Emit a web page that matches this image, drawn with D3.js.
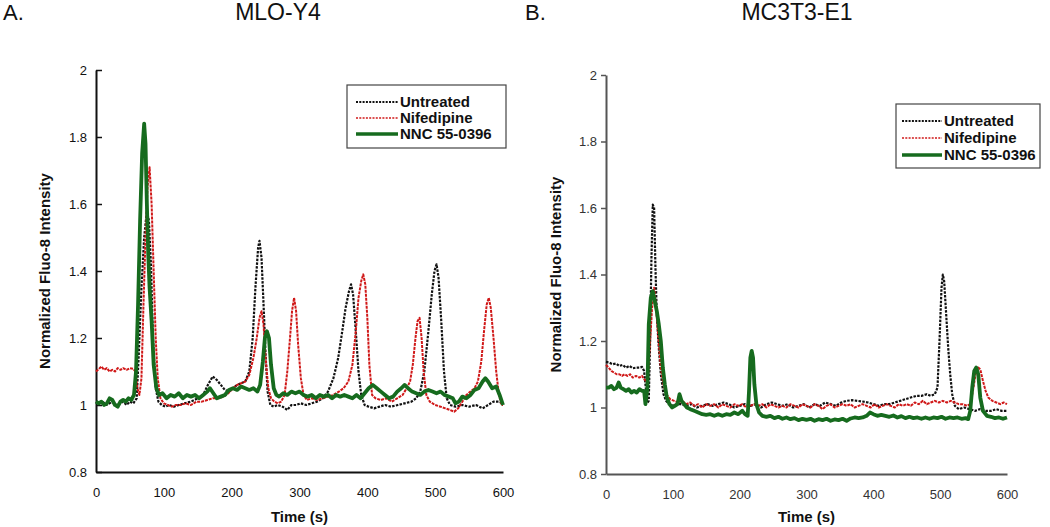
<!DOCTYPE html>
<html><head><meta charset="utf-8">
<script src="https://cdn.jsdelivr.net/npm/d3@7"></script>
<style>body{margin:0;background:#fff}svg{display:block;font-family:"Liberation Sans",Arial,sans-serif}</style>
</head><body><svg id="c" width="1050" height="527"></svg>
<script>
const seriesNames = ["Untreated","Nifedipine","NNC 55-0396"];
const xTicks = [0,100,200,300,400,500,600];
const yTicks = [0.8,1,1.2,1.4,1.6,1.8,2];
const yTickLabels = ["0.8","1","1.2","1.4","1.6","1.8","2"];

const untreatedA = [[0,1.01],[5,1.005],[10,1.01],[15,1.0],[20,1.005],[25,1.01],[30,1.0],[35,1.005],[40,1.01],[45,1.0],[50,1.01],[55,1.005],[60,1.02],[63,1.15],[67,1.35],[71,1.5],[75,1.58],[78,1.55],[81,1.42],[84,1.2],[88,1.05],[92,1.01],[97,1.0],[102,0.995],[108,1.0],[115,0.995],[122,1.0],[130,1.005],[140,1.01],[150,1.02],[158,1.03],[165,1.06],[172,1.085],[178,1.075],[184,1.06],[190,1.045],[196,1.04],[202,1.05],[208,1.06],[214,1.065],[220,1.07],[226,1.1],[231,1.2],[235,1.35],[239,1.47],[241,1.49],[244,1.44],[247,1.3],[250,1.15],[253,1.04],[257,1.0],[262,0.995],[268,1.0],[275,0.995],[282,0.985],[288,1.0],[295,1.0],[302,1.005],[310,1.0],[318,1.005],[326,1.01],[334,1.02],[342,1.04],[350,1.08],[357,1.14],[363,1.22],[368,1.29],[373,1.34],[376,1.36],[379,1.33],[383,1.22],[387,1.1],[391,1.03],[396,1.0],[402,0.995],[410,0.99],[418,0.995],[426,1.0],[435,0.995],[445,1.0],[455,1.005],[465,1.01],[472,1.02],[478,1.04],[484,1.1],[490,1.22],[495,1.33],[499,1.4],[502,1.42],[505,1.38],[509,1.25],[513,1.1],[517,1.02],[522,1.0],[530,0.995],[540,1.0],[550,0.995],[560,1.0],[570,0.99],[578,1.0],[586,1.01],[594,1.01],[600,1.005]];
const nifedipineA = [[0,1.1],[3,1.105],[8,1.115],[12,1.105],[16,1.11],[20,1.1],[24,1.105],[28,1.1],[32,1.11],[36,1.105],[40,1.11],[45,1.105],[50,1.11],[55,1.108],[58,1.1],[61,1.05],[64,1.03],[67,1.08],[70,1.3],[73,1.5],[76,1.65],[79,1.71],[82,1.6],[85,1.4],[88,1.2],[91,1.08],[95,1.02],[100,1.005],[106,1.0],[112,0.995],[118,1.0],[125,1.0],[132,1.005],[140,1.0],[148,1.01],[156,1.01],[164,1.015],[172,1.02],[180,1.02],[188,1.025],[195,1.035],[202,1.05],[208,1.06],[214,1.065],[220,1.07],[226,1.09],[232,1.14],[237,1.2],[241,1.26],[244,1.28],[247,1.24],[250,1.14],[254,1.05],[258,1.02],[263,1.01],[268,1.005],[273,1.01],[278,1.03],[282,1.1],[286,1.2],[289,1.28],[292,1.32],[295,1.28],[298,1.18],[302,1.08],[306,1.03],[311,1.015],[318,1.02],[326,1.015],[334,1.02],[342,1.025],[350,1.03],[358,1.04],[365,1.05],[372,1.07],[378,1.12],[383,1.22],[387,1.32],[391,1.37],[394,1.39],[397,1.36],[400,1.26],[403,1.12],[407,1.03],[412,1.02],[420,1.015],[428,1.02],[436,1.01],[444,1.02],[452,1.03],[458,1.05],[463,1.07],[467,1.12],[471,1.2],[474,1.25],[477,1.26],[480,1.2],[483,1.1],[487,1.03],[492,1.01],[500,1.0],[508,0.995],[515,0.99],[522,0.985],[528,0.98],[534,0.99],[540,1.01],[546,1.03],[552,1.04],[558,1.05],[563,1.07],[568,1.13],[572,1.22],[576,1.3],[579,1.32],[582,1.29],[586,1.2],[590,1.1],[594,1.03],[598,1.0],[600,1.0]];
const nncA = [[0,1.01],[4,1.005],[8,1.01],[12,1.0],[16,1.005],[20,1.02],[24,1.015],[28,1.0],[32,0.995],[36,1.01],[40,1.015],[44,1.01],[48,1.02],[52,1.015],[56,1.03],[59,1.1],[62,1.3],[65,1.55],[68,1.75],[71,1.84],[73,1.78],[75,1.6],[77,1.45],[79,1.35],[82,1.25],[85,1.12],[89,1.05],[93,1.03],[98,1.035],[104,1.02],[110,1.03],[116,1.025],[122,1.035],[128,1.02],[134,1.03],[140,1.025],[146,1.03],[152,1.02],[158,1.03],[164,1.04],[168,1.05],[173,1.035],[178,1.02],[184,1.025],[190,1.03],[196,1.045],[202,1.05],[208,1.045],[214,1.055],[220,1.05],[226,1.045],[232,1.05],[238,1.04],[242,1.06],[246,1.13],[249,1.2],[252,1.22],[255,1.2],[258,1.12],[262,1.05],[266,1.03],[270,1.025],[276,1.035],[282,1.03],[288,1.04],[294,1.035],[300,1.04],[306,1.03],[312,1.025],[318,1.03],[324,1.02],[330,1.03],[336,1.025],[342,1.03],[348,1.02],[354,1.03],[360,1.025],[366,1.03],[372,1.025],[378,1.02],[384,1.03],[390,1.02],[396,1.035],[402,1.05],[408,1.06],[414,1.05],[420,1.04],[426,1.03],[432,1.02],[438,1.025],[444,1.04],[450,1.05],[455,1.06],[460,1.05],[466,1.04],[472,1.035],[478,1.03],[484,1.04],[490,1.045],[496,1.04],[502,1.035],[508,1.04],[514,1.03],[520,1.025],[526,1.02],[530,1.005],[535,1.01],[540,1.025],[546,1.02],[552,1.03],[558,1.045],[564,1.05],[570,1.07],[574,1.08],[578,1.07],[584,1.05],[590,1.055],[595,1.03],[600,1.0]];

const untreatedB = [[0,1.137],[5,1.135],[10,1.13],[15,1.132],[20,1.125],[25,1.128],[30,1.12],[35,1.125],[40,1.118],[45,1.12],[50,1.12],[54,1.122],[57,1.11],[60,1.05],[62,1.015],[64,1.02],[66,1.2],[68,1.45],[70,1.61],[72,1.6],[74,1.42],[76,1.28],[79,1.18],[82,1.1],[86,1.04],[90,1.02],[95,1.01],[100,1.005],[106,1.01],[112,1.01],[120,1.005],[128,1.01],[136,1.0],[144,1.005],[152,1.01],[160,1.005],[168,1.01],[176,1.015],[184,1.01],[192,1.0],[200,1.005],[208,1.01],[216,1.005],[224,1.01],[232,1.0],[240,1.01],[248,1.015],[256,1.01],[264,1.005],[272,1.01],[280,1.0],[288,1.005],[296,1.01],[304,1.0],[312,1.01],[320,1.005],[328,1.015],[336,1.01],[344,1.005],[352,1.015],[360,1.02],[368,1.022],[376,1.02],[384,1.018],[392,1.015],[400,1.01],[408,1.005],[416,1.01],[424,1.01],[432,1.015],[440,1.02],[448,1.025],[456,1.03],[464,1.035],[472,1.035],[480,1.04],[486,1.035],[492,1.04],[496,1.06],[499,1.2],[502,1.36],[504,1.4],[506,1.38],[509,1.28],[512,1.18],[515,1.1],[518,1.04],[522,1.005],[528,0.995],[536,1.0],[544,0.995],[552,0.99],[560,0.995],[568,0.99],[576,0.99],[584,0.995],[592,0.99],[600,0.99]];
const nifedipineB = [[0,1.128],[4,1.12],[8,1.11],[12,1.105],[16,1.1],[20,1.1],[24,1.095],[28,1.1],[32,1.095],[36,1.1],[40,1.09],[45,1.095],[50,1.09],[54,1.095],[57,1.085],[60,1.08],[63,1.1],[66,1.2],[69,1.3],[72,1.36],[75,1.3],[78,1.22],[82,1.12],[86,1.07],[90,1.04],[96,1.025],[102,1.02],[108,1.015],[114,1.02],[120,1.01],[126,1.015],[132,1.005],[138,1.01],[144,1.0],[150,1.01],[156,1.005],[162,1.01],[168,1.0],[174,1.01],[180,1.005],[186,1.0],[192,1.01],[198,1.005],[204,1.01],[210,1.0],[216,1.005],[222,1.01],[228,1.005],[234,1.01],[240,1.0],[246,1.01],[252,1.005],[258,1.0],[264,1.005],[270,1.0],[276,1.01],[282,1.005],[288,1.0],[294,1.01],[300,1.005],[306,1.0],[312,1.01],[318,1.005],[324,0.995],[330,1.005],[336,1.01],[342,1.0],[348,1.005],[354,1.01],[360,1.005],[366,1.01],[372,1.0],[378,1.005],[384,1.01],[390,1.005],[396,1.0],[402,1.01],[408,1.0],[414,1.005],[420,1.01],[426,1.005],[432,1.0],[438,1.01],[444,1.005],[450,1.01],[456,1.005],[462,1.015],[468,1.01],[474,1.02],[480,1.01],[486,1.015],[492,1.02],[498,1.015],[504,1.02],[510,1.015],[516,1.02],[522,1.015],[528,1.01],[534,1.01],[540,1.005],[545,1.01],[549,1.05],[553,1.1],[557,1.12],[560,1.115],[564,1.08],[568,1.05],[572,1.03],[578,1.02],[584,1.015],[590,1.01],[595,1.015],[600,1.01]];
const nncB = [[0,1.06],[4,1.06],[8,1.065],[12,1.055],[16,1.06],[19,1.075],[22,1.06],[26,1.055],[30,1.05],[34,1.055],[38,1.045],[42,1.05],[46,1.045],[50,1.055],[54,1.05],[57,1.05],[59,1.01],[62,1.06],[64,1.25],[67,1.33],[70,1.35],[73,1.32],[76,1.29],[79,1.25],[82,1.2],[85,1.12],[88,1.07],[91,1.03],[95,1.01],[99,1.0],[103,1.005],[107,1.01],[110,1.04],[113,1.02],[117,1.01],[121,1.0],[126,0.995],[132,0.99],[138,0.985],[144,0.98],[150,0.978],[156,0.98],[162,0.975],[168,0.98],[174,0.975],[180,0.98],[186,0.978],[192,0.985],[198,0.98],[204,0.99],[208,0.98],[212,0.975],[214,1.05],[216,1.15],[218,1.17],[220,1.15],[222,1.07],[225,1.01],[229,0.985],[234,0.975],[240,0.972],[246,0.975],[252,0.968],[258,0.972],[264,0.966],[270,0.97],[276,0.965],[282,0.968],[288,0.962],[294,0.966],[300,0.963],[306,0.966],[312,0.96],[318,0.965],[324,0.962],[330,0.966],[336,0.96],[342,0.964],[348,0.962],[354,0.966],[360,0.96],[366,0.967],[372,0.97],[378,0.968],[384,0.97],[390,0.975],[395,0.985],[400,0.98],[406,0.975],[412,0.978],[418,0.975],[424,0.972],[430,0.976],[436,0.97],[442,0.974],[448,0.968],[454,0.972],[460,0.968],[466,0.97],[472,0.966],[478,0.97],[484,0.966],[490,0.97],[496,0.968],[502,0.972],[508,0.966],[514,0.97],[520,0.968],[526,0.97],[532,0.966],[538,0.968],[542,0.965],[545,0.99],[548,1.06],[551,1.11],[554,1.12],[557,1.1],[560,1.03],[564,0.99],[570,0.975],[576,0.972],[582,0.968],[588,0.97],[594,0.966],[600,0.97]];

const svg = d3.select("#c");
const styles = [
  {color:"#111", width:2.2, dash:"2.5,1.3"},
  {color:"#d01818", width:2, dash:"3,1"},
  {color:"#166b1e", width:3.8, dash:null}
];

function panel(o){
  const x = d3.scaleLinear().domain([0,600]).range([o.x0,o.x1]);
  const y = d3.scaleLinear().domain([0.8,2]).range([o.yb,o.yt]);
  const g = svg.append("g");
  g.append("text").attr("x",o.letterX).attr("y",20).attr("font-size",22).attr("fill","#111").text(o.letter);
  g.append("text").attr("x",(o.titleX)).attr("y",20).attr("font-size",23).attr("fill","#111").attr("text-anchor","middle").text(o.title);
  const ya = d3.axisLeft(y).tickValues(yTicks).tickFormat((d,i)=>yTickLabels[i]).tickSize(o.inward? -6 : 5).tickSizeOuter(0).tickPadding(o.inward?9:4);
  const yg = g.append("g").attr("transform",`translate(${o.x0},0)`).call(ya);
  yg.select(".domain").attr("stroke",o.axisColor).attr("stroke-width",2);
  yg.selectAll(".tick line").attr("stroke",o.axisColor).attr("stroke-width",1.5);
  yg.selectAll(".tick text").attr("font-size",13).attr("fill",o.labelColor).attr("font-family","Liberation Sans, Arial, sans-serif");
  const xa = d3.axisBottom(x).tickValues(xTicks).tickSize(0).tickSizeOuter(0).tickPadding(16);
  const xg = g.append("g").attr("transform",`translate(0,${o.yb})`).call(xa);
  xg.select(".domain").attr("stroke",o.axisColor).attr("stroke-width",2);
  xg.selectAll(".tick text").attr("font-size",13).attr("fill",o.labelColor).attr("font-family","Liberation Sans, Arial, sans-serif");
  g.append("text").attr("transform",`translate(${o.yTitleX},${(o.yt+o.yb)/2}) rotate(-90)`).attr("text-anchor","middle")
    .attr("font-size",15).attr("font-weight","bold").attr("fill","#111").text("Normalized Fluo-8 Intensity");
  g.append("text").attr("x",(o.x0+o.x1)/2).attr("y",522).attr("text-anchor","middle")
    .attr("font-size",15).attr("font-weight","bold").attr("fill","#111").text("Time (s)");
  const line = d3.line().x(d=>x(d[0])).y(d=>y(d[1]));
  o.data.forEach((ds,i)=>{
    const s = styles[i];
    g.append("path").datum(ds).attr("d",line).attr("fill","none").attr("stroke",s.color)
      .attr("stroke-width",s.width).attr("stroke-dasharray",s.dash).attr("stroke-linejoin","round");
  });
  const L = o.legend;
  g.append("rect").attr("x",L.x).attr("y",L.y).attr("width",L.w).attr("height",L.h)
    .attr("fill","#fff").attr("stroke","#444").attr("stroke-width",1.2);
  seriesNames.forEach((n,i)=>{
    const s = styles[i];
    const yy = L.y + L.row0 + i*L.dy;
    g.append("line").attr("x1",L.x+L.lx0).attr("x2",L.x+L.lx1).attr("y1",yy).attr("y2",yy)
      .attr("stroke",s.color).attr("stroke-width",i===2?3.5:(i===0?2.2:1.5)).attr("stroke-dasharray",i===2?null:"2,1.3");
    g.append("text").attr("x",L.x+L.lx1+2).attr("y",yy+5).attr("font-size",15).attr("font-weight","bold").attr("fill","#111").text(n);
  });
}

panel({x0:96,x1:503,yt:70,yb:472,letter:"A.",letterX:3,title:"MLO-Y4",titleX:278,inward:true,axisColor:"#111",labelColor:"#111",yTitleX:50,
  data:[untreatedA,nifedipineA,nncA],
  legend:{x:347,y:85,w:159,h:63,row0:17,dy:16,lx0:9,lx1:51}});
panel({x0:606,x1:1007,yt:75,yb:474,letter:"B.",letterX:525,title:"MC3T3-E1",titleX:797,inward:false,axisColor:"#555",labelColor:"#333",yTitleX:561,
  data:[untreatedB,nifedipineB,nncB],
  legend:{x:896,y:104,w:144,h:64,row0:17,dy:17,lx0:6,lx1:46}});
</script></body></html>
